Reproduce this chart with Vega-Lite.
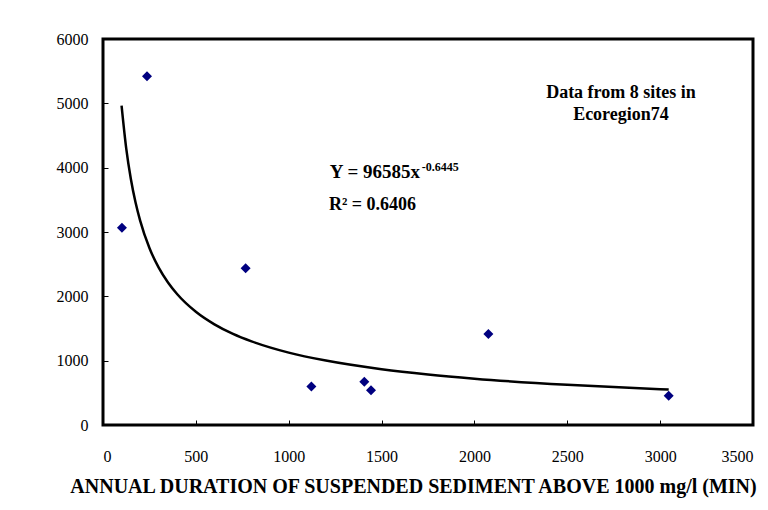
{
  "$schema": "https://vega.github.io/schema/vega-lite/v6.json",
  "width": 650,
  "height": 386,
  "autosize": "none",
  "padding": {"left": 103, "top": 39, "right": 15, "bottom": 85},
  "background": "white",
  "config": {
    "view": {"stroke": "black", "strokeWidth": 3},
    "font": "Liberation Serif",
    "axis": {
      "grid": false,
      "domain": false,
      "tickColor": "black",
      "tickSize": -5,
      "tickWidth": 1,
      "labelFont": "Liberation Serif",
      "labelFontSize": 16,
      "labelColor": "black",
      "format": "d"
    }
  },
  "datasets": {
    "points": [
      {"x": 102, "y": 3065},
      {"x": 237, "y": 5420},
      {"x": 768, "y": 2435},
      {"x": 1122, "y": 598},
      {"x": 1407, "y": 673},
      {"x": 1443, "y": 540},
      {"x": 2075, "y": 1414},
      {"x": 3046, "y": 456}
    ],
    "trend": [
      {"x": 100, "y": 4964},
      {"x": 125, "y": 4300},
      {"x": 150, "y": 3824},
      {"x": 175, "y": 3462},
      {"x": 200, "y": 3177},
      {"x": 250, "y": 2751},
      {"x": 300, "y": 2446},
      {"x": 350, "y": 2215},
      {"x": 400, "y": 2032},
      {"x": 500, "y": 1760},
      {"x": 600, "y": 1565},
      {"x": 700, "y": 1416},
      {"x": 800, "y": 1300},
      {"x": 1000, "y": 1125},
      {"x": 1200, "y": 1001},
      {"x": 1500, "y": 867},
      {"x": 1750, "y": 785},
      {"x": 2000, "y": 720},
      {"x": 2500, "y": 624},
      {"x": 3000, "y": 555},
      {"x": 3046, "y": 550}
    ],
    "labels": [
      {"x": 1707, "y": 3933, "t": "Y = 96585x", "kind": "main"},
      {"x": 1716, "y": 4010, "t": "-0.6445", "kind": "sup"},
      {"x": 1451, "y": 3420, "t": "R² = 0.6406", "kind": "r2"},
      {"x": 2789, "y": 5161, "t": "Data from 8 sites in\nEcoregion74", "kind": "note"}
    ]
  },
  "layer": [
    {
      "data": {"name": "trend"},
      "mark": {"type": "line", "color": "black", "strokeWidth": 2.5, "interpolate": "monotone"},
      "encoding": {
        "x": {
          "field": "x", "type": "quantitative",
          "scale": {"domain": [0, 3500], "nice": false},
          "axis": {
            "values": [0, 500, 1000, 1500, 2000, 2500, 3000, 3500],
            "labelPadding": 28,
            "title": "ANNUAL DURATION OF SUSPENDED SEDIMENT ABOVE 1000 mg/l (MIN)",
            "titleFont": "Liberation Serif",
            "titleFontSize": 20,
            "titleFontWeight": "bold",
            "titleColor": "black",
            "titlePadding": 12,
            "titleX": 310,
            "titleAlign": "center"
          }
        },
        "y": {
          "field": "y", "type": "quantitative",
          "scale": {"domain": [0, 6000], "nice": false},
          "axis": {
            "values": [0, 1000, 2000, 3000, 4000, 5000, 6000],
            "labelPadding": 20,
            "title": null
          }
        }
      }
    },
    {
      "data": {"name": "points"},
      "mark": {"type": "point", "shape": "diamond", "filled": true, "color": "#000080", "size": 100, "opacity": 1},
      "encoding": {
        "x": {"field": "x", "type": "quantitative"},
        "y": {"field": "y", "type": "quantitative"}
      }
    },
    {
      "data": {"name": "labels"},
      "transform": [{"filter": "datum.kind === 'main'"}],
      "mark": {"type": "text", "align": "right", "baseline": "middle", "fontSize": 19, "fontWeight": "bold", "font": "Liberation Serif", "color": "black"},
      "encoding": {
        "x": {"field": "x", "type": "quantitative"},
        "y": {"field": "y", "type": "quantitative"},
        "text": {"field": "t"}
      }
    },
    {
      "data": {"name": "labels"},
      "transform": [{"filter": "datum.kind === 'sup'"}],
      "mark": {"type": "text", "align": "left", "baseline": "middle", "fontSize": 12, "fontWeight": "bold", "font": "Liberation Serif", "color": "black"},
      "encoding": {
        "x": {"field": "x", "type": "quantitative"},
        "y": {"field": "y", "type": "quantitative"},
        "text": {"field": "t"}
      }
    },
    {
      "data": {"name": "labels"},
      "transform": [{"filter": "datum.kind === 'r2' || datum.kind === 'note'"}],
      "mark": {"type": "text", "align": "center", "baseline": "middle", "fontSize": 18, "fontWeight": "bold", "font": "Liberation Serif", "color": "black", "lineBreak": "\n", "lineHeight": 22},
      "encoding": {
        "x": {"field": "x", "type": "quantitative"},
        "y": {"field": "y", "type": "quantitative"},
        "text": {"field": "t"}
      }
    }
  ]
}
